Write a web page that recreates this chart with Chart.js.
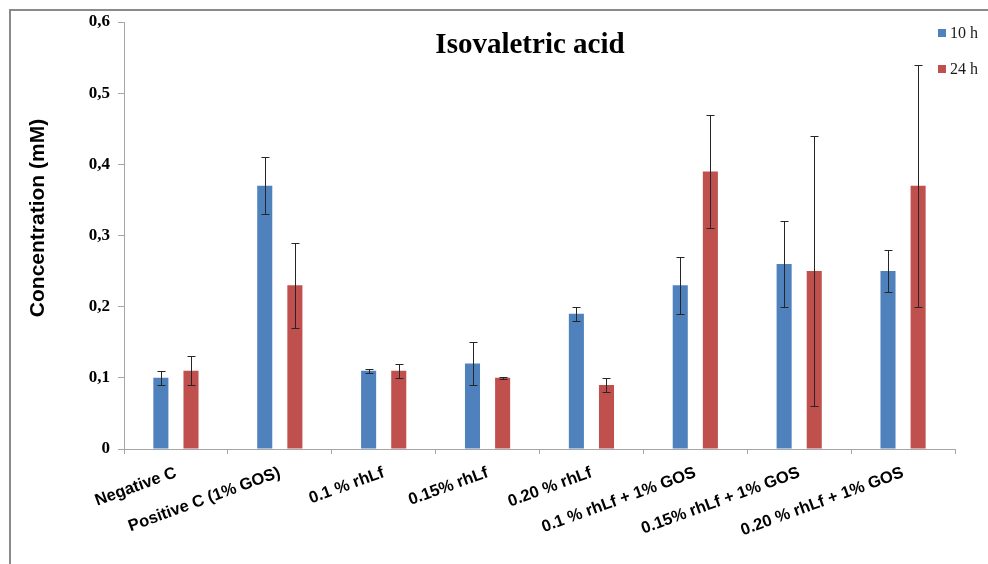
<!DOCTYPE html>
<html>
<head>
<meta charset="utf-8">
<script src="https://cdn.jsdelivr.net/npm/chart.js@4.4.1/dist/chart.umd.min.js"></script>
<style>
  html, body { margin: 0; padding: 0; background: #ffffff; }
  #wrap { width: 988px; height: 564px; position: relative; }
</style>
</head>
<body>
<div id="wrap"><canvas id="c" width="988" height="564"></canvas></div>
<script>
// ---- Data ----
const categories = [
  'Negative C', 'Positive C (1% GOS)', '0.1 % rhLf', '0.15% rhLf',
  '0.20 % rhLf', '0.1 % rhLf + 1% GOS', '0.15% rhLf + 1% GOS', '0.20 % rhLf + 1% GOS'
];
const seriesLabels = ['10 h', '24 h'];
const values10h = [0.10, 0.37, 0.11, 0.12, 0.19, 0.23, 0.26, 0.25];
const errors10h = [0.01, 0.04, 0.003, 0.03, 0.01, 0.04, 0.06, 0.03];
const values24h = [0.11, 0.23, 0.11, 0.10, 0.09, 0.39, 0.25, 0.37];
const errors24h = [0.02, 0.06, 0.01, 0.001, 0.01, 0.08, 0.19, 0.17];
const yTickValues = [0, 0.1, 0.2, 0.3, 0.4, 0.5, 0.6];
const yTickLabels = ['0', '0,1', '0,2', '0,3', '0,4', '0,5', '0,6'];
const chartTitle = 'Isovaletric acid';
const yAxisTitle = 'Concentration (mM)';

const colors = ['#4F81BD', '#C0504D'];

// ---- Plugins ----
const framePlugin = {
  id: 'frame',
  beforeDraw(chart) {
    const ctx = chart.ctx;
    ctx.save();
    ctx.fillStyle = '#ffffff';
    ctx.fillRect(0, 0, chart.width, chart.height);
    ctx.strokeStyle = '#8a8a8a';
    ctx.lineWidth = 2;
    ctx.beginPath();
    ctx.moveTo(10, chart.height);
    ctx.lineTo(10, 10);
    ctx.lineTo(chart.width, 10);
    ctx.stroke();
    ctx.restore();
  }
};

const errorBarPlugin = {
  id: 'errorBars',
  afterDatasetsDraw(chart) {
    const ctx = chart.ctx;
    const yScale = chart.scales.y;
    ctx.save();
    ctx.strokeStyle = '#262626';
    ctx.lineWidth = 1;
    chart.data.datasets.forEach((ds, di) => {
      const meta = chart.getDatasetMeta(di);
      meta.data.forEach((bar, i) => {
        const v = ds.data[i];
        const e = ds.errors[i];
        const x = Math.round(bar.x) + 0.5;
        const yt = Math.round(yScale.getPixelForValue(v + e)) + 0.5;
        const yb = Math.round(yScale.getPixelForValue(v - e)) + 0.5;
        ctx.beginPath();
        ctx.moveTo(x, yt); ctx.lineTo(x, yb);
        ctx.moveTo(x - 4, yt); ctx.lineTo(x + 4, yt);
        ctx.moveTo(x - 4, yb); ctx.lineTo(x + 4, yb);
        ctx.stroke();
      });
    });
    ctx.restore();
  }
};

const textPlugin = {
  id: 'texts',
  afterDraw(chart) {
    const ctx = chart.ctx;
    ctx.save();
    // Title
    ctx.fillStyle = '#000000';
    ctx.font = 'bold 29px "Liberation Serif", "Times New Roman", serif';
    ctx.textAlign = 'center';
    ctx.textBaseline = 'alphabetic';
    ctx.fillText(chartTitle, 530, 53);
    // Y axis title
    ctx.save();
    ctx.translate(38, 218);
    ctx.rotate(-Math.PI / 2);
    ctx.font = 'bold 21px "Liberation Sans", Arial, sans-serif';
    ctx.textAlign = 'center';
    ctx.textBaseline = 'middle';
    ctx.fillText(yAxisTitle, 0, 0);
    ctx.restore();
    // Legend
    ctx.font = '16px "Liberation Serif", "Times New Roman", serif';
    ctx.textAlign = 'left';
    ctx.textBaseline = 'middle';
    chart.data.datasets.forEach((ds, i) => {
      const cy = 33 + i * 36;
      ctx.fillStyle = ds.backgroundColor;
      ctx.fillRect(938, cy - 4, 8, 8);
      ctx.fillStyle = '#1a1a1a';
      ctx.fillText(ds.label, 950, cy + 1);
    });
    ctx.restore();
  }
};

new Chart(document.getElementById('c'), {
  type: 'bar',
  data: {
    labels: categories,
    datasets: [
      { label: seriesLabels[0], data: values10h, errors: errors10h, backgroundColor: colors[0],
        borderWidth: 0, categoryPercentage: 0.58, barPercentage: 0.5 },
      { label: seriesLabels[1], data: values24h, errors: errors24h, backgroundColor: colors[1],
        borderWidth: 0, categoryPercentage: 0.58, barPercentage: 0.5 }
    ]
  },
  options: {
    responsive: false,
    animation: false,
    layout: { padding: { top: 22, right: 33, left: 0, bottom: 0 } },
    plugins: {
      legend: { display: false },
      tooltip: { enabled: false },
      title: { display: false }
    },
    scales: {
      x: {
        grid: { display: true, drawOnChartArea: false, drawTicks: true, tickLength: 5, color: '#a6a6a6', offset: true },
        border: { display: true, color: '#a6a6a6', width: 1 },
        ticks: {
          autoSkip: false, minRotation: 20, maxRotation: 20, padding: 9,
          color: '#000000',
          font: { family: '"Liberation Sans", Arial, sans-serif', size: 16.5, weight: 'bold' }
        },
        afterFit(scale) { scale.height = 115; }
      },
      y: {
        min: 0, max: 0.6,
        afterBuildTicks(scale) { scale.ticks = yTickValues.map(v => ({ value: v })); },
        grid: { display: true, drawOnChartArea: false, drawTicks: true, tickLength: 6, color: '#a6a6a6' },
        border: { display: true, color: '#a6a6a6', width: 1 },
        ticks: {
          padding: 8,
          color: '#000000',
          font: { family: '"Liberation Serif", "Times New Roman", serif', size: 17, weight: 'bold' },
          callback(value, index) { return yTickLabels[index]; }
        },
        afterFit(scale) { scale.width = 124; }
      }
    }
  },
  plugins: [framePlugin, errorBarPlugin, textPlugin]
});
</script>
</body>
</html>
